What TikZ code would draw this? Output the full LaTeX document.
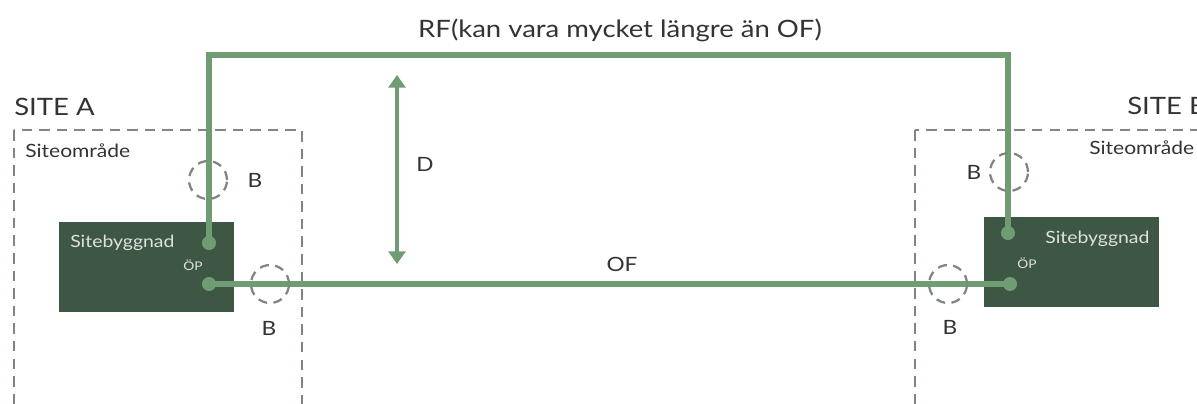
\documentclass[tikz,border=0pt]{standalone}
\usepackage{fontspec}
\setmainfont[FakeStretch=1.15]{Lato}
\usetikzlibrary{arrows.meta}
\definecolor{fibergreen}{RGB}{112,156,116}
\definecolor{housegreen}{RGB}{61,87,68}
\definecolor{dashgray}{RGB}{126,134,128}

\begin{document}
\begin{tikzpicture}[x=0.025cm, y=-0.025cm,
    site/.style={draw=dashgray, line width=1.6pt, dash pattern=on 7.5pt off 5pt},
    house/.style={fill=housegreen, minimum width=124.5pt, minimum height=64pt, inner sep=0pt},
    fiber/.style={draw=fibergreen, line width=3.6pt},
    port/.style={circle, fill=fibergreen, minimum size=10pt, inner sep=0pt},
    border/.style={draw=dashgray, circle, line width=1.6pt, dash pattern=on 6.5pt off 4.5pt, minimum size=27pt, inner sep=0pt},
    big/.style={font=\fontsize{17}{20}\selectfont, text=black!80},
    mid/.style={font=\fontsize{14}{17}\selectfont, text=black!80},
    small/.style={font=\fontsize{13}{15}\selectfont, text=black!80},
    houselabel/.style={font=\fontsize{12}{14}\selectfont, text=white!88!black, inner sep=0pt},
    portlabel/.style={font=\fontsize{8.5}{10}\selectfont, text=white!88!black, inner sep=0pt}]
        \useasboundingbox (0,0) rectangle (1197,403);

        \draw[site] (14,130) rectangle (302,440);
        \draw[site] (915,130) rectangle (1240,440);

        \draw (14,115) node [big, anchor=base west, inner sep=0pt] (siteA) {SITE A};
        \draw (1127,114) node [big, anchor=base west, inner sep=0pt] (siteB) {SITE B};
        \draw (25,157) node [small, anchor=base west, inner sep=0pt] (areaA) {Siteområde};
        \draw (1089,154) node [small, anchor=base west, inner sep=0pt] (areaB) {Siteområde};

        \draw (146.5,267) node [house] (houseA) {};
        \draw (1071.5,262) node [house] (houseB) {};
        \draw (70,247) node [houselabel, anchor=base west] (nameA) {Sitebyggnad};
        \draw (1045,243) node [houselabel, anchor=base west] (nameB) {Sitebyggnad};
        \draw (183,270) node [portlabel, anchor=base west] (opA) {ÖP};
        \draw (1017,268) node [portlabel, anchor=base west] (opB) {ÖP};

        \draw (209,243) node [port] (rfA) {};
        \draw (209,284) node [port] (ofA) {};
        \draw (1008,233) node [port] (rfB) {};
        \draw (1010,284) node [port] (ofB) {};
        \coordinate (rftop) at (600,55);

        \draw[fiber] (rfA.center) |- (rftop) -| (rfB.center);
        \draw[fiber] (ofA.center) -- (ofB.center);

        \draw (208,180) node [border] (bA1) {};
        \draw (270,284) node [border] (bA2) {};
        \draw (1009,172) node [border] (bB1) {};
        \draw (948,284) node [border] (bB2) {};
        \draw (255,180) node [mid] (lA1) {B};
        \draw (269,328) node [mid] (lA2) {B};
        \draw (974,172) node [mid] (lB1) {B};
        \draw (950,327) node [mid] (lB2) {B};

        \coordinate (dtop) at (397,75);
        \coordinate (dbot) at (397,264);
        \draw[fibergreen, line width=2.8pt, {Triangle[width=12pt,length=9pt]}-{Triangle[width=12pt,length=9pt]}] (dtop) -- (dbot);
        \draw (425,164) node [mid] (dlabel) {D};

        \draw (622,264) node [mid] (oflabel) {OF};
        \draw (620,37) node [big, anchor=base, inner sep=0pt] (rflabel) {RF(kan vara mycket längre än OF)};
    \end{tikzpicture}
\end{document}
